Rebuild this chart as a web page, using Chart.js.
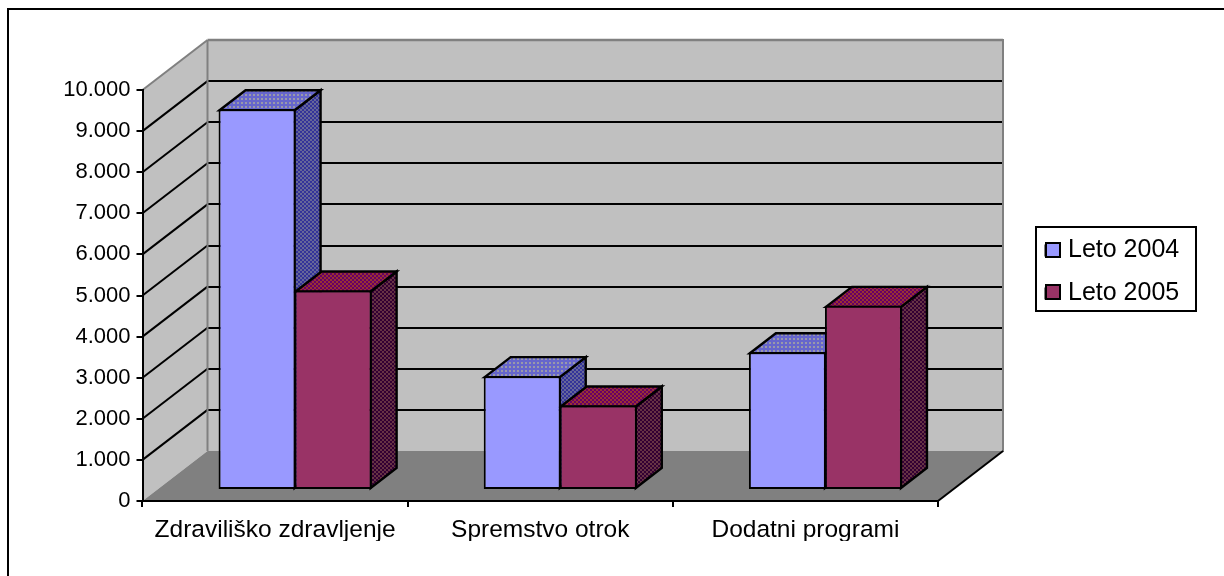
<!DOCTYPE html>
<html>
<head>
<meta charset="utf-8">
<style>html,body{margin:0;padding:0;background:#fff;overflow:hidden}canvas{display:block}</style>
<script src="https://cdn.jsdelivr.net/npm/chart.js@4/dist/chart.umd.min.js"></script>
</head>
<body>
<canvas id="c" width="1224" height="576"></canvas>
<script>
const categories = ['Zdraviliško zdravljenje', 'Spremstvo otrok', 'Dodatni programi'];
const leto2004 = [9265, 2770, 3350];
const leto2005 = [4855, 2055, 4480];
const seriesNames = ['Leto 2004', 'Leto 2005'];
const yTickLabels = ['0', '1.000', '2.000', '3.000', '4.000', '5.000', '6.000', '7.000', '8.000', '9.000', '10.000'];

const FONT = '"Liberation Sans", Arial, sans-serif';
const WALL = { dx: 65, dy: 50 };
const BAR = { shiftX: 20, shiftY: -11, dx: 26, dy: 20 };

function pattern(size, bg, dots) {
  const c = document.createElement('canvas');
  c.width = c.height = size;
  const g = c.getContext('2d');
  g.fillStyle = bg; g.fillRect(0, 0, size, size);
  dots.forEach(d => { g.fillStyle = d[4]; g.fillRect(d[0], d[1], d[2], d[3]); });
  return g.createPattern(c, 'repeat');
}
const faces = [
  { side: () => pattern(4, '#333399', [[0,0,2,2,'#666699'],[2,2,2,2,'#666699']]),
    top:  () => pattern(4, '#6666CC', [[1,1,2,2,'#9999AA']]) },
  { side: () => pattern(4, '#330033', [[0,0,2,2,'#663344'],[2,2,2,2,'#663344']]),
    top:  () => pattern(4, '#660066', [[0,0,2,2,'#993333'],[2,2,2,2,'#993333']]) }
];

function poly(ctx, pts, fill, stroke, lw) {
  ctx.beginPath();
  pts.forEach((p, i) => i ? ctx.lineTo(p[0], p[1]) : ctx.moveTo(p[0], p[1]));
  ctx.closePath();
  if (fill) { ctx.fillStyle = fill; ctx.fill(); }
  if (stroke) { ctx.strokeStyle = stroke; ctx.lineWidth = lw; ctx.lineJoin = 'miter'; ctx.stroke(); }
}
function line(ctx, x1, y1, x2, y2, color, lw) {
  ctx.beginPath(); ctx.moveTo(x1, y1); ctx.lineTo(x2, y2);
  ctx.strokeStyle = color; ctx.lineWidth = lw; ctx.stroke();
}

const scene = {
  id: 'scene',
  afterLayout(chart) {
    const l = chart.legend;
    l.left = 1027.5; l.top = 220; l.right = 1196; l.bottom = 400;
  },
  beforeDraw(chart) {
    const ctx = chart.ctx, a = chart.chartArea, y = chart.scales.y;
    const L = 142.5, R = a.right, T = y.getPixelForValue(10000), B = y.getPixelForValue(0);
    const dx = WALL.dx, dy = WALL.dy;
    ctx.save();
    ctx.fillStyle = '#fff'; ctx.fillRect(0, 0, chart.width, chart.height);
    line(ctx, 7, 9, chart.width, 9, '#000', 2);
    line(ctx, 8, 8, 8, chart.height, '#000', 2);
    poly(ctx, [[L, T], [L + dx, T - dy], [L + dx, B - dy], [L, B]], '#C0C0C0');
    poly(ctx, [[L + dx, T - dy], [R + dx, T - dy], [R + dx, B - dy], [L + dx, B - dy]], '#C0C0C0');
    poly(ctx, [[L, B], [L + dx, B - dy], [R + dx, B - dy], [R, B]], '#808080');
    y.ticks.forEach(t => {
      if (t.value === 0 || t.value === 10000) return;
      const p = y.getPixelForValue(t.value);
      line(ctx, L, p, L + dx, p - dy, '#000', 2);
      line(ctx, L + dx, Math.round(p - dy), R + dx, Math.round(p - dy), '#000', 2);
    });
    line(ctx, L, T, L + dx, T - dy, '#808080', 2);
    line(ctx, L + dx, T - dy, R + dx, T - dy, '#808080', 2.5);
    line(ctx, L + dx, T - dy, L + dx, B - dy, '#808080', 2);
    line(ctx, R + dx, T - dy - 1, R + dx, B - dy + 1, '#808080', 2);
    line(ctx, R, B, R + dx, B - dy, '#000', 2);
    ctx.restore();
  },
  beforeDatasetsDraw(chart) {
    const ctx = chart.ctx;
    ctx.save();
    ctx.translate(BAR.shiftX, BAR.shiftY);
    [0, 1].forEach(d => {
      const sideFill = faces[d].side(), topFill = faces[d].top();
      chart.getDatasetMeta(d).data.forEach(el => {
        const l = el.x - el.width / 2 + 1, r = el.x + el.width / 2 - 1, t = el.y + 1, b = el.base - 1;
        poly(ctx, [[r, t], [r + BAR.dx, t - BAR.dy], [r + BAR.dx, b - BAR.dy], [r, b]], sideFill, '#000', 2.4);
        poly(ctx, [[l, t], [l + BAR.dx, t - BAR.dy], [r + BAR.dx, t - BAR.dy], [r, t]], topFill, '#000', 2.4);
      });
    });
  },
  afterDatasetsDraw(chart) {
    chart.ctx.restore();
  },
  afterDraw(chart) {
    const ctx = chart.ctx;
    ctx.save();
    ctx.strokeStyle = '#000'; ctx.lineWidth = 2;
    ctx.strokeRect(1036, 227, 160, 84);
    [[1046, 243, '#9999FF'], [1046, 285, '#993366']].forEach(s => {
      ctx.fillStyle = s[2]; ctx.fillRect(s[0], s[1], 14, 14);
      ctx.strokeRect(s[0], s[1], 14, 14);
    });
    ctx.restore();
  }
};

new Chart(document.getElementById('c'), {
  type: 'bar',
  data: {
    labels: categories,
    datasets: [
      { label: seriesNames[0], data: leto2004, backgroundColor: '#9999FF', borderColor: '#000', borderWidth: 2, borderSkipped: false, clip: false },
      { label: seriesNames[1], data: leto2005, backgroundColor: '#993366', borderColor: '#000', borderWidth: 2, borderSkipped: false, clip: false }
    ]
  },
  plugins: [scene],
  options: {
    responsive: false,
    animation: false,
    categoryPercentage: 0.5736,
    barPercentage: 1.013,
    layout: { padding: { left: 0, right: 286, top: 90, bottom: 35 } },
    plugins: {
      tooltip: { enabled: false },
      legend: {
        position: 'chartArea',
        align: 'start',
        labels: { color: '#000', font: { family: FONT, size: 25 }, boxWidth: 10, boxHeight: 10, padding: 18 }
      }
    },
    scales: {
      x: {
        afterFit: s => { s.height = 40; },
        border: { color: '#000', width: 2 },
        grid: { offset: true, drawOnChartArea: false, color: '#000', lineWidth: 2, tickLength: 6 },
        ticks: { color: '#000', font: { family: FONT, size: 24.5 }, padding: 9, maxRotation: 0, autoSkip: false }
      },
      y: {
        min: 0, max: 10000,
        afterFit: s => { s.width = 142.5; },
        border: { color: '#000', width: 2 },
        grid: { drawOnChartArea: false, color: '#000', lineWidth: 2, tickLength: 6 },
        ticks: { stepSize: 1000, color: '#000', font: { family: FONT, size: 22 }, padding: 6,
                 callback: (v, i) => yTickLabels[i] }
      }
    }
  }
});
</script>
</body>
</html>
